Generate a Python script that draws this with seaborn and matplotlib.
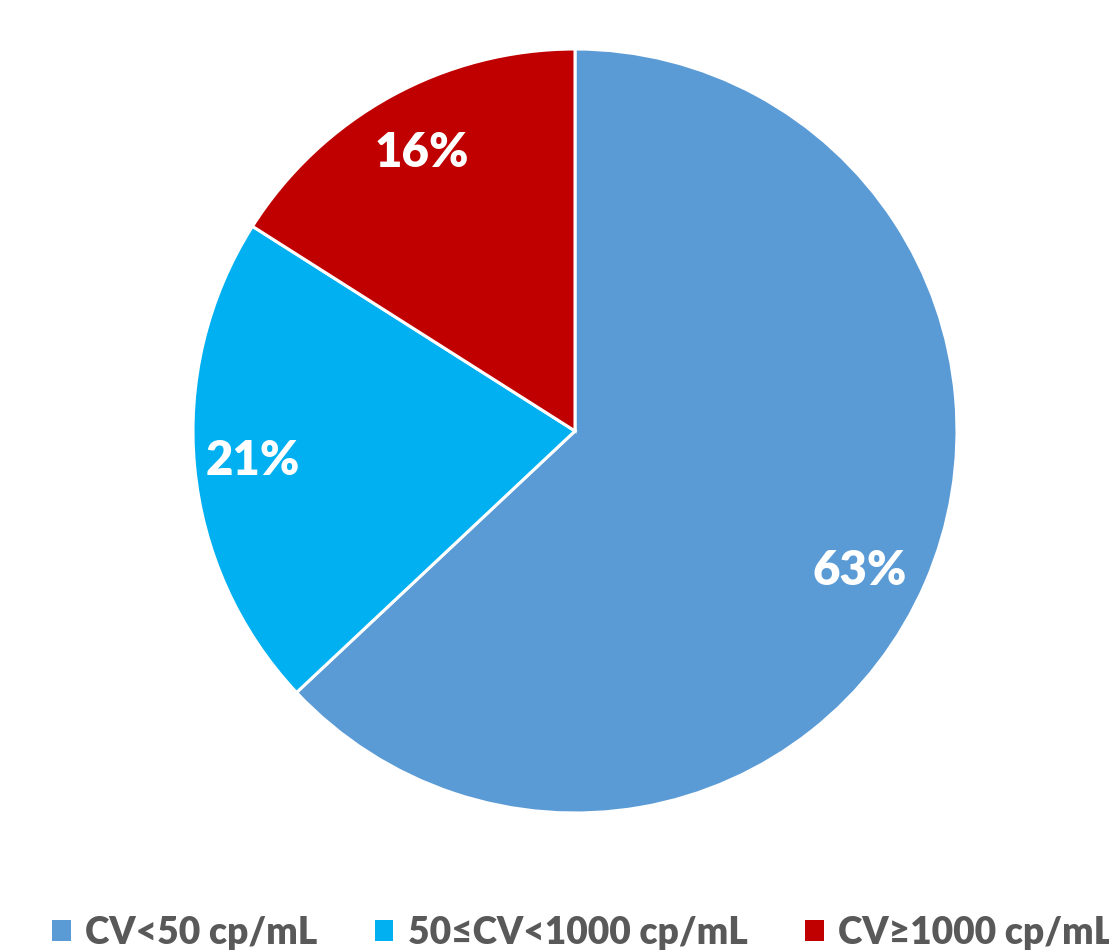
import seaborn as sns
from matplotlib import pyplot as plt
from matplotlib.patches import Patch

# data
categories = ['CV<50 cp/mL', '50≤CV<1000 cp/mL', 'CV≥1000 cp/mL']
shares = [63, 21, 16]
colors = ['#5B9BD5', '#00B0F0', '#C00000']

sns.set_theme(style='white')
plt.rcParams['font.family'] = ['Lato', 'DejaVu Sans']

fig = plt.figure(figsize=(11.09, 9.51), dpi=100)
# pie centre at (575, 431) px, radius 382 px
ax = fig.add_axes([(575 - 382) / 1109, (520 - 382) / 951, 764 / 1109, 764 / 951])

wedges, texts, autotexts = ax.pie(
    shares, colors=colors, startangle=90, counterclock=False,
    autopct='%d%%', pctdistance=0.83,
    wedgeprops=dict(edgecolor='white', linewidth=2.2),
)
# small nudges so labels sit where the original put them
nudges = [(-0.016, -0.037), (-0.016, 0.0), (0.0, 0.0)]
for t, (dx, dy) in zip(autotexts, nudges):
    t.set_color('white')
    t.set_fontweight('heavy')
    t.set_fontsize(34)
    x, y = t.get_position()
    t.set_position((x + dx, y + dy))

ax.set_xlim(-1, 1)
ax.set_ylim(-1, 1)
ax.set_aspect('equal')
ax.axis('off')

handles = [Patch(facecolor=c, edgecolor='none') for c in colors]
fig.legend(handles, categories, loc='center left', bbox_to_anchor=(52 / 1109, 18 / 951),
           ncol=3, frameon=False, borderpad=0, borderaxespad=0,
           handlelength=0.5, handleheight=0.5, handletextpad=0.4, columnspacing=1.54,
           prop={'weight': 'heavy', 'size': 26.7}, labelcolor='#595959')

plt.savefig('out.png', dpi=100)
